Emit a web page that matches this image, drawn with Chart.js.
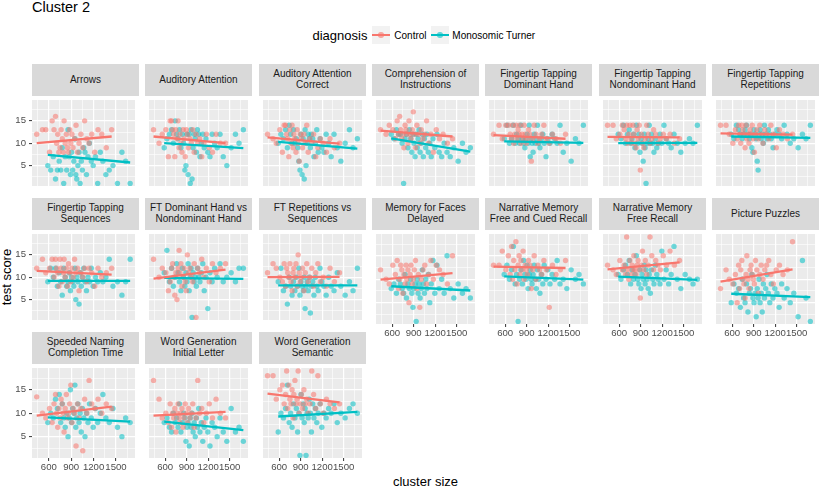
<!DOCTYPE html>
<html>
<head>
<meta charset="utf-8">
<script src="https://cdn.jsdelivr.net/npm/chart.js@4.4.1/dist/chart.umd.min.js"></script>
<style>
  body { margin: 0; background: #fff; font-family: "Liberation Sans", Arial, sans-serif; }
  #page { position: relative; width: 819px; height: 487px; overflow: hidden; background: #fff; }
  .strip { position: absolute; background: #D9D9D9; color: #1A1A1A; font-size: 10px; line-height: 10.8px;
           display: flex; align-items: center; justify-content: center; text-align: center; white-space: pre; }
  .box { position: absolute; }
  .txt { position: absolute; white-space: nowrap; color: #000; }
  .key { position: absolute; top: 26px; width: 18px; height: 18px; background: #F2F2F2; }
  .key .ln { position: absolute; left: 0; right: 0; top: 7.9px; height: 2.3px; }
  .key .pt { position: absolute; left: 6.3px; top: 6.3px; width: 5.4px; height: 5.4px; border-radius: 50%; }
</style>
</head>
<body>
<div id="page">
  <div class="txt" style="left:32px; top:0; font-size:14.5px; line-height:14px;">Cluster 2</div>
  <div class="txt" style="left:312.5px; top:28.5px; font-size:13px; line-height:13px;">diagnosis</div>
  <div class="key" style="left:372px;"><div class="pt" style="background:rgba(248,118,109,0.6)"></div><div class="ln" style="background:#F8766D"></div></div>
  <div class="txt" style="left:394.3px; top:30.8px; font-size:10px; line-height:10px;">Control</div>
  <div class="key" style="left:431px;"><div class="pt" style="background:rgba(0,191,196,0.6)"></div><div class="ln" style="background:#00BFC4"></div></div>
  <div class="txt" style="left:452.3px; top:30.8px; font-size:10px; line-height:10px;">Monosomic Turner</div>
  <div class="txt" style="left:6px; top:277px; font-size:13px; line-height:13px; transform:translate(-50%,-50%) rotate(-90deg);">test score</div>
  <div class="txt" style="left:425.5px; top:481px; font-size:13px; line-height:13px; transform:translate(-50%,-50%);">cluster size</div>
</div>
<script>
// facet names, in wrap order (7 per row)
const panelNames = [
  'Arrows', 'Auditory Attention', 'Auditory Attention\nCorrect', 'Comprehension of\nInstructions',
  'Fingertip Tapping\nDominant Hand', 'Fingertip Tapping\nNondominant Hand', 'Fingertip Tapping\nRepetitions',
  'Fingertip Tapping\nSequences', 'FT Dominant Hand vs\nNondominant Hand', 'FT Repetitions vs\nSequences',
  'Memory for Faces\nDelayed', 'Narrative Memory\nFree and Cued Recall', 'Narrative Memory\nFree Recall',
  'Picture Puzzles', 'Speeded Naming\nCompletion Time', 'Word Generation\nInitial Letter', 'Word Generation\nSemantic'
];

// cluster size per subject (same subjects in every panel)
const controlX = [438, 515, 560, 610, 645, 670, 690, 705, 720, 735, 750, 765, 780, 795, 805, 820, 835, 850, 865, 880,
  895, 910, 925, 945, 965, 985, 1005, 1030, 1055, 1080, 1110, 1140, 1175, 1215, 1260, 1310, 1370, 1442];
const turnerX = [587, 625, 660, 690, 715, 740, 760, 780, 800, 820, 840, 858, 875, 890, 905, 920, 935, 950, 962, 975,
  990, 1005, 1020, 1035, 1050, 1068, 1085, 1105, 1125, 1145, 1170, 1195, 1225, 1255, 1290, 1325, 1365, 1410, 1460, 1520,
  1580, 1630, 1690];

// test scores per panel
const controlScores = [
  [12,13,13,8,15,13,16,10,12,8, 9,13,11,8,15,10,12,9,8,13, 10,12,9,11,14,8,10,12,9,15, 11,10,12,8,13,12,9,13],
  [13,10,12,13,7,15,15,13,12,7, 13,11,15,9,12,10,8,13,11,7, 13,12,9,11,10,13,8,12,10,11, 7,10,12,9,8,12,10,10],
  [12,11,10,13,8,14,14,12,11,7, 13,10,14,9,12,11,8,13,10,6, 12,11,9,12,10,14,8,11,10,12, 7,9,11,10,8,11,9,10],
  [13,12,14,13,11,15,12,16,13,11, 12,9,14,13,12,10,15,12,11,13, 17,12,9,14,12,10,13,11,12,15, 10,12,8,13,11,12,10,11],
  [12,14,11,14,14,12,11,14,10,12, 14,11,13,12,14,10,12,11,14,12, 10,11,13,12,6,11,14,12,10,11, 12,14,11,10,12,11,10,12],
  [14,14,11,12,14,13,11,14,10,12, 14,11,10,14,12,10,9,13,11,14, 4,12,10,9,11,14,12,10,11,13, 12,10,11,12,11,12,10,11],
  [14,14,12,10,13,11,14,12,10,14, 13,12,9,14,11,12,10,13,12,14, 11,8,12,13,11,14,12,10,13,12, 11,14,12,9,13,12,11,12],
  [12,14,11,12,14,10,14,12,11,8, 14,12,9,11,14,10,12,8,13,11, 9,12,10,14,11,12,7,11,10,12, 9,12,11,8,12,10,11,12],
  [14,10,12,11,7,9,12,13,10,6, 11,5,12,16,11,13,8,10,12,9, 7,15,11,12,10,9,13,1,12,11, 14,10,12,9,13,11,12,13],
  [11,13,12,10,9,13,8,12,11,10, 13,9,7,11,12,10,13,8,15,11, 9,10,12,7,11,13,9,10,12,8, 11,13,9,10,8,12,9,11],
  [12,10,9,13,11,14,8,10,13,12, 7,11,9,13,10,12,5,11,13,9, 10,12,14,8,11,4,10,12,13,9, 11,14,10,13,12,11,9,15],
  [13,13,16,12,15,11,17,10,14,12, 18,9,13,15,11,14,12,16,10,13, 12,11,14,13,8,12,15,10,13,12, 11,14,12,4,13,11,12,14],
  [13,12,11,14,12,13,11,19,12,10, 14,11,13,12,15,12,11,13,14,12, 6,13,16,12,14,11,13,19,15,12, 14,13,12,15,13,16,13,14],
  [8,12,10,9,11,5,13,8,12,14, 10,9,6,11,15,10,8,12,13,11, 10,9,14,12,7,11,13,10,12,13, 14,11,9,12,13,11,12,18],
  [13.5,10,9,11,8,12,14,10,7,11, 9,13,12,10,6,11,14,9,10,12, 16,8,11,10,3,12,9,11,2,13, 10,17,12,11,13,10,12,11],
  [17,13,9,10,8,12,7,10,9,11, 6,10,12,9,8,10,11,7,9,12, 10,8,11,9,10,12,7,9,17,10, 11,8,10,12,9,13,10,9],
  [18,18,13,15,16,12,14,19,11,16, 13,12,15,9,14,17,12,13,19,10, 12,14,11,15,12,13,10,12,19,14, 11,18,12,10,13,12,11,12]
];
const turnerScores = [
  [5,4,7,2,4,6,4,9,1,7, 4,13,7,3,8,4,6,11,3,2, 5,8,1,6,4,9,8,3,7,10, 6,5,7,1,8,6,3,4,5,1, 8,6,1],
  [9,11,12,13,10,15,12,11,13,9, 12,10,4,5,12,3,12,1,13,2, 9,12,11,8,13,12,7,10,12,9, 11,8,7,12,10,9,12,7,5,9, 12,10,13],
  [10,12,11,13,9,14,12,10,13,10, 11,9,6,4,12,3,11,2,13,5, 10,12,11,9,12,11,7,10,13,8, 11,9,8,12,10,7,12,9,6,10, 13,9,11],
  [12,11,13,12,12,10,1,11,12,9, 13,11,8,12,10,7,12,9,11,13, 8,10,12,7,11,9,12,8,10,7, 11,9,12,8,7,10,8,7,9,6, 10,8,9],
  [11,14,10,11,14,10,12,11,10,14, 11,10,9,11,12,10,14,7,11,10, 8,12,10,11,14,10,9,11,12,10, 7,11,10,12,11,10,14,8,10,6, 11,10,14],
  [12,11,14,10,12,13,10,11,12,9, 14,10,12,8,11,10,6,12,9,1, 10,11,14,10,12,10,8,11,9,10, 12,10,14,11,10,9,12,10,8,10, 11,10,14],
  [12,11,14,13,12,11,12,13,14,12, 11,12,9,8,13,12,11,6,4,12, 13,11,12,10,14,12,11,13,12,11, 9,12,13,12,11,14,12,10,11,9, 12,11,14],
  [9,12,10,12,8,11,9,6,12,10, 8,9,11,7,10,9,8,12,5,10, 9,4,11,8,10,12,9,7,10,9, 12,8,10,9,11,9,10,14,8,9, 6,9,14],
  [11,16,9,12,8,10,13,11,9,7, 12,10,8,11,9,13,7,10,12,1, 11,9,10,8,12,10,9,11,13,7, 10,3,11,9,12,10,13,9,10,11, 9,12,12],
  [9,12,7,8,4,10,8,6,9,7, 10,8,12,6,9,8,7,10,3,8, 9,7,10,2,8,9,6,10,8,7, 12,9,8,6,10,8,7,11,8,6, 9,7,12],
  [8,9,7,10,9,8,7,11,6,9, 8,10,7,4,8,9,1,10,7,9, 6,8,12,9,7,10,8,11,5,9, 14,7,13,8,10,7,15,8,6,9, 7,8,6],
  [11,13,10,12,17,9,11,1,10,12, 9,14,11,10,13,8,11,12,10,9, 11,13,10,8,12,10,7,11,9,13, 10,12,9,11,10,14,9,10,8,12, 10,11,9],
  [11,10,12,13,11,14,9,12,10,11, 15,10,9,12,8,11,10,13,9,12, 10,8,11,7,12,10,9,13,11,10, 9,16,10,12,9,11,17,10,8,11, 10,9,10],
  [5,9,7,8,4,10,6,5,9,3, 7,8,11,6,5,7,2,8,6,10, 5,7,3,9,6,8,11,7,5,9, 6,8,7,4,9,6,8,5,7,2, 14,6,1],
  [8,10,9,13,11,14,8,12,9,7, 10,5,9,15,8,11,10,16,7,9, 12,8,10,6,11,9,5,10,8,12, 9,7,11,8,10,14,9,8,11,7, 5,9,8],
  [8,9,7,6,10,8,9,7,12,6, 8,10,9,4,7,8,3,9,7,10, 6,8,5,9,7,11,6,8,4,7, 9,6,3,8,7,5,9,6,4,11, 6,7,4],
  [6,10,9,11,16,8,10,7,12,9, 11,6,10,1,14,9,12,8,11,1, 10,9,13,10,6,12,9,11,8,10, 12,7,10,9,11,10,12,8,10,9, 11,12,10]
];

// fitted line: score at smallest and largest cluster size of each group
const controlFit = [[10.0,11.5],[11.5,10.0],[11.3,9.9],[12.8,11.5],[11.8,11.0],[11.4,11.3],[12.2,11.9],
  [11.4,10.6],[9.7,11.7],[10.0,10.1],[9.9,11.3],[12.7,12.4],[12.1,13.6],[9.5,12.1],[9.5,11.4],[9.5,10.3],[14.2,12.3]];
const turnerFit = [[7.4,5.7],[10.0,8.9],[10.3,8.8],[11.1,8.1],[10.4,10.1],[10.0,10.1],[11.5,11.2],
  [9.2,9.2],[9.85,9.65],[8.2,8.2],[8.5,7.6],[10.6,9.9],[10.55,9.86],[6.9,6.2],[9.1,8.2],[8.2,6.4],[9.3,10.3]];

const xTickLabels = [600, 900, 1200, 1500];
const xGridValues = [450, 600, 750, 900, 1050, 1200, 1350, 1500, 1650];
const yTickLabels = [5, 10, 15];
const yGridValues = [2.5, 5, 7.5, 10, 12.5, 15, 17.5];

const panelBg = {
  id: 'panelBg',
  beforeDraw(chart) {
    const a = chart.chartArea, c = chart.ctx;
    c.save();
    c.fillStyle = '#EBEBEB';
    c.fillRect(a.left, a.top, a.right - a.left, a.bottom - a.top);
    c.restore();
  }
};

const page = document.getElementById('page');
const tickFont = { family: '"Liberation Sans", Arial, sans-serif', size: 9.6 };

panelNames.forEach((name, i) => {
  const row = Math.floor(i / 7), col = i % 7;
  const left = Math.round(32 + col * 113.3), top = Math.round(64 + row * 134.1);
  const w = 107, stripH = 32, panelH = 94;
  const showY = col === 0;
  const showX = row === 2 || (row === 1 && col >= 3);
  const yW = showY ? 32 : 0, xH = showX ? 16 : 0;

  const strip = document.createElement('div');
  strip.className = 'strip';
  strip.style.left = left + 'px'; strip.style.top = top + 'px';
  strip.style.width = w + 'px'; strip.style.height = stripH + 'px';
  strip.textContent = name;
  page.appendChild(strip);

  const box = document.createElement('div');
  box.className = 'box';
  box.style.left = (left - yW) + 'px'; box.style.top = (top + stripH) + 'px';
  box.style.width = (w + yW) + 'px'; box.style.height = (panelH + xH) + 'px';
  const cv = document.createElement('canvas');
  box.appendChild(cv);
  page.appendChild(box);

  const cMin = Math.min(...controlX), cMax = Math.max(...controlX);
  const tMin = Math.min(...turnerX), tMax = Math.max(...turnerX);

  new Chart(cv, {
    type: 'scatter',
    data: {
      datasets: [
        { type: 'line', data: [{ x: cMin, y: controlFit[i][0] }, { x: cMax, y: controlFit[i][1] }],
          borderColor: '#F8766D', borderWidth: 2.3, pointRadius: 0, fill: false, order: 0 },
        { type: 'line', data: [{ x: tMin, y: turnerFit[i][0] }, { x: tMax, y: turnerFit[i][1] }],
          borderColor: '#00BFC4', borderWidth: 2.3, pointRadius: 0, fill: false, order: 0 },
        { data: controlX.map((x, k) => ({ x: x, y: controlScores[i][k] })),
          backgroundColor: 'rgba(248,118,109,0.55)', borderWidth: 0, pointRadius: 2.7, order: 1 },
        { data: turnerX.map((x, k) => ({ x: x, y: turnerScores[i][k] })),
          backgroundColor: 'rgba(0,191,196,0.55)', borderWidth: 0, pointRadius: 2.7, order: 1 }
      ]
    },
    options: {
      responsive: true,
      maintainAspectRatio: false,
      animation: false,
      events: [],
      layout: { padding: 0 },
      plugins: { legend: { display: false }, tooltip: { enabled: false } },
      scales: {
        x: {
          type: 'linear', min: 375, max: 1755,
          afterBuildTicks: s => { s.ticks = xGridValues.map(v => ({ value: v })); },
          afterFit: s => { s.height = xH; s.paddingLeft = 0; s.paddingRight = 0; },
          border: { display: false },
          grid: {
            color: '#FFFFFF',
            lineWidth: ctx => xTickLabels.includes(ctx.tick.value) ? 1.2 : 0.6,
            drawTicks: showX, tickLength: 3, tickWidth: 1,
            tickColor: ctx => xTickLabels.includes(ctx.tick.value) ? '#333333' : 'rgba(0,0,0,0)'
          },
          ticks: {
            display: showX, autoSkip: false, maxRotation: 0, padding: 1,
            color: '#4D4D4D', font: tickFont,
            callback: v => xTickLabels.includes(v) ? String(v) : ''
          }
        },
        y: {
          type: 'linear', min: 0.45, max: 19.65,
          afterBuildTicks: s => { s.ticks = yGridValues.map(v => ({ value: v })); },
          afterFit: s => { s.width = yW; s.paddingTop = 0; s.paddingBottom = 0; },
          border: { display: false },
          grid: {
            color: '#FFFFFF',
            lineWidth: ctx => yTickLabels.includes(ctx.tick.value) ? 1.2 : 0.6,
            drawTicks: showY, tickLength: 3, tickWidth: 1,
            tickColor: ctx => yTickLabels.includes(ctx.tick.value) ? '#333333' : 'rgba(0,0,0,0)'
          },
          ticks: {
            display: showY, autoSkip: false, padding: 3,
            color: '#4D4D4D', font: tickFont,
            callback: v => yTickLabels.includes(v) ? String(v) : ''
          }
        }
      }
    },
    plugins: [panelBg]
  });
});
</script>
</body>
</html>
